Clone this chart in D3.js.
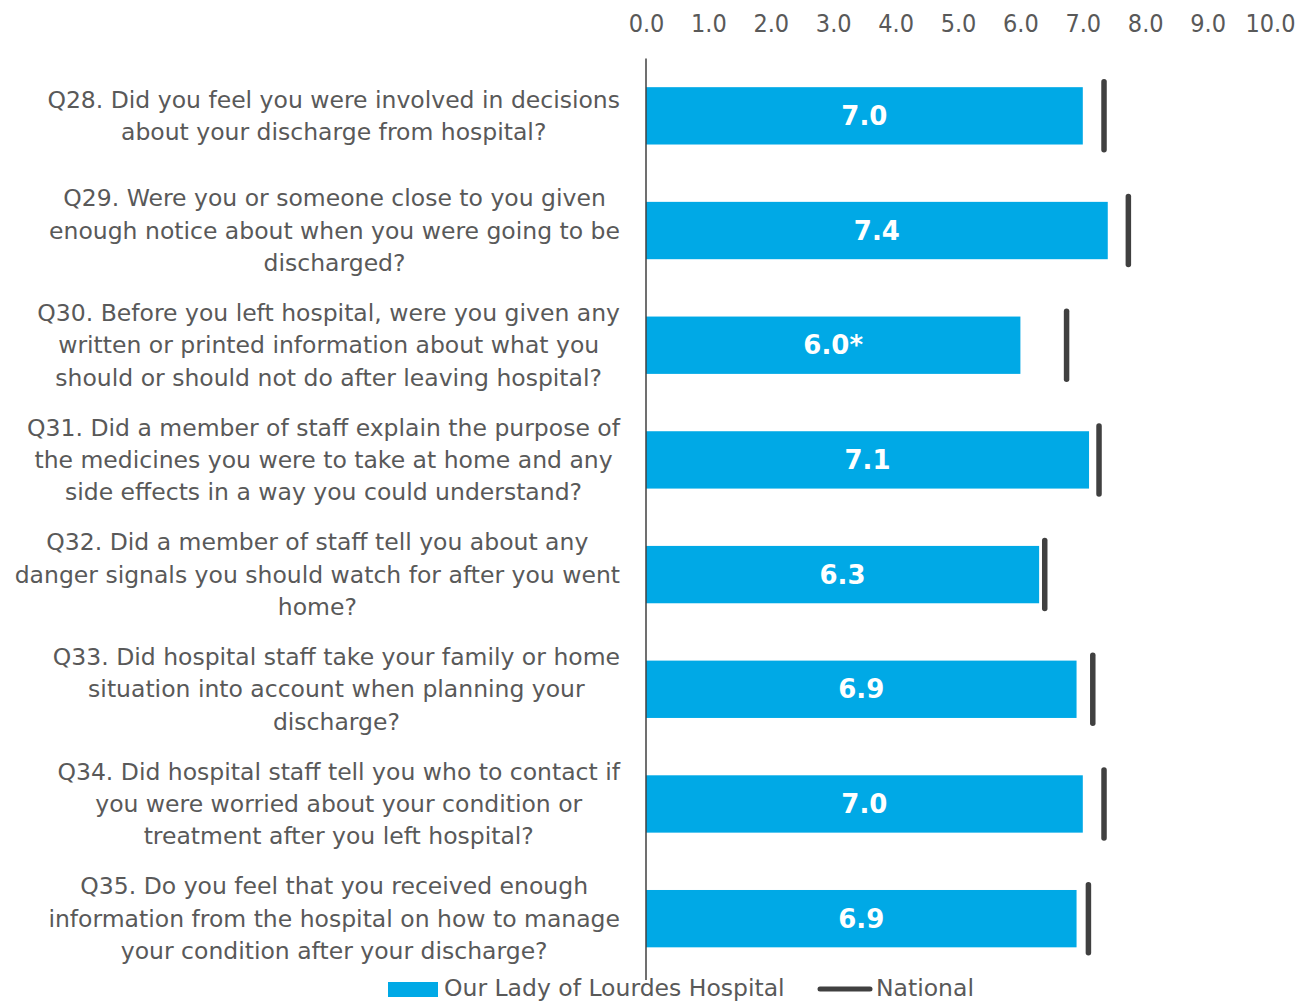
<!DOCTYPE html>
<html>
<head>
<meta charset="utf-8">
<script src="https://cdn.jsdelivr.net/npm/d3@7"></script>
<style>
  html, body { margin: 0; padding: 0; background: #fff; }
  svg { display: block; font-family: "DejaVu Sans", sans-serif; }
</style>
</head>
<body>
<svg id="chart" width="1298" height="1001"></svg>
<script>
// Question labels, already broken into display lines
const questions = ["Q28", "Q29", "Q30", "Q31", "Q32", "Q33", "Q34", "Q35"];
const questionLines = [
  ["Q28. Did you feel you were involved in decisions", "about your discharge from hospital?"],
  ["Q29. Were you or someone close to you given", "enough notice about when you were going to be", "discharged?"],
  ["Q30. Before you left hospital, were you given any", "written or printed information about what you", "should or should not do after leaving hospital?"],
  ["Q31. Did a member of staff explain the purpose of", "the medicines you were to take at home and any", "side effects in a way you could understand?"],
  ["Q32. Did a member of staff tell you about any", "danger signals you should watch for after you went", "home?"],
  ["Q33. Did hospital staff take your family or home", "situation into account when planning your", "discharge?"],
  ["Q34. Did hospital staff tell you who to contact if", "you were worried about your condition or", "treatment after you left hospital?"],
  ["Q35. Do you feel that you received enough", "information from the hospital on how to manage", "your condition after your discharge?"]
];
// Hospital scores and national scores
const hospitalScores = [7.0, 7.4, 6.0, 7.1, 6.3, 6.9, 7.0, 6.9];
const hospitalFlags  = ["", "", "*", "", "", "", "", ""];
const nationalScores = [7.34, 7.73, 6.74, 7.26, 6.39, 7.16, 7.34, 7.09];
const tickValues = [0, 1, 2, 3, 4, 5, 6, 7, 8, 9, 10];
const seriesNames = ["Our Lady of Lourdes Hospital", "National"];

const rows = questions.map((q, i) => ({
  q, lines: questionLines[i], value: hospitalScores[i], flag: hospitalFlags[i], national: nationalScores[i]
}));

const svg = d3.select("#chart");
const textColor = "#595959";
const barColor = "#00A9E6";
const markColor = "#404040";

const x = d3.scaleLinear().domain([0, 10]).range([646, 1270]);
const y = d3.scaleBand().domain(questions).range([58.5, 976]).paddingInner(0.5).paddingOuter(0.25);

// Top value axis (labels only)
const axis = svg.append("g")
  .attr("transform", "translate(0,32)")
  .call(d3.axisTop(x).tickValues(tickValues).tickSize(0).tickPadding(0).tickFormat(d3.format(".1f")));
axis.select(".domain").remove();
axis.selectAll("text")
  .attr("fill", textColor)
  .style("font-size", "25px")
  .style("font-family", "\"DejaVu Sans Condensed\", sans-serif");

// Bars
svg.append("g").selectAll("rect").data(rows).join("rect")
  .attr("x", x(0))
  .attr("y", d => y(d.q))
  .attr("width", d => x(d.value) - x(0))
  .attr("height", y.bandwidth())
  .attr("fill", barColor);

// Value labels inside bars
svg.append("g").selectAll("text").data(rows).join("text")
  .attr("x", d => (x(0) + x(d.value)) / 2)
  .attr("y", d => y(d.q) + y.bandwidth() / 2)
  .attr("text-anchor", "middle")
  .attr("dominant-baseline", "central")
  .attr("fill", "#fff")
  .style("font-weight", "bold")
  .style("font-size", "26px")
  .text(d => d3.format(".1f")(d.value) + d.flag);

// National markers
svg.append("g").selectAll("line").data(rows).join("line")
  .attr("x1", d => x(d.national))
  .attr("x2", d => x(d.national))
  .attr("y1", d => y(d.q) + y.bandwidth() / 2 - 34)
  .attr("y2", d => y(d.q) + y.bandwidth() / 2 + 34)
  .attr("stroke", markColor)
  .attr("stroke-width", 5.5)
  .attr("stroke-linecap", "round");

// Category axis line
svg.append("line")
  .attr("x1", x(0)).attr("x2", x(0))
  .attr("y1", 58.5).attr("y2", 980)
  .attr("stroke", "#404040").attr("stroke-width", 1.5);

// Category labels: block right-aligned to the axis, lines centred within block
const lineH = 32.3;
const labelG = svg.append("g").style("font-size", "23.5px").attr("fill", textColor);
rows.forEach(d => {
  const cy = y(d.q) + y.bandwidth() / 2;
  const g = labelG.append("g");
  const texts = d.lines.map((ln, i) => g.append("text")
    .attr("y", cy + (i - (d.lines.length - 1) / 2) * lineH)
    .attr("dominant-baseline", "central")
    .attr("text-anchor", "middle")
    .text(ln));
  const maxW = d3.max(texts, t => t.node().getComputedTextLength());
  texts.forEach(t => t.attr("x", 620 - maxW / 2));
});

// Legend
const legend = svg.append("g").style("font-size", "23.5px").attr("fill", textColor);
legend.append("rect").attr("x", 388).attr("y", 982).attr("width", 50).attr("height", 15).attr("fill", barColor);
legend.append("text").attr("x", 444).attr("y", 988).attr("dominant-baseline", "central").text(seriesNames[0]);
legend.append("line").attr("x1", 820).attr("x2", 870).attr("y1", 989).attr("y2", 989)
  .attr("stroke", markColor).attr("stroke-width", 5).attr("stroke-linecap", "round");
legend.append("text").attr("x", 876).attr("y", 988).attr("dominant-baseline", "central").text(seriesNames[1]);
</script>
</body>
</html>
